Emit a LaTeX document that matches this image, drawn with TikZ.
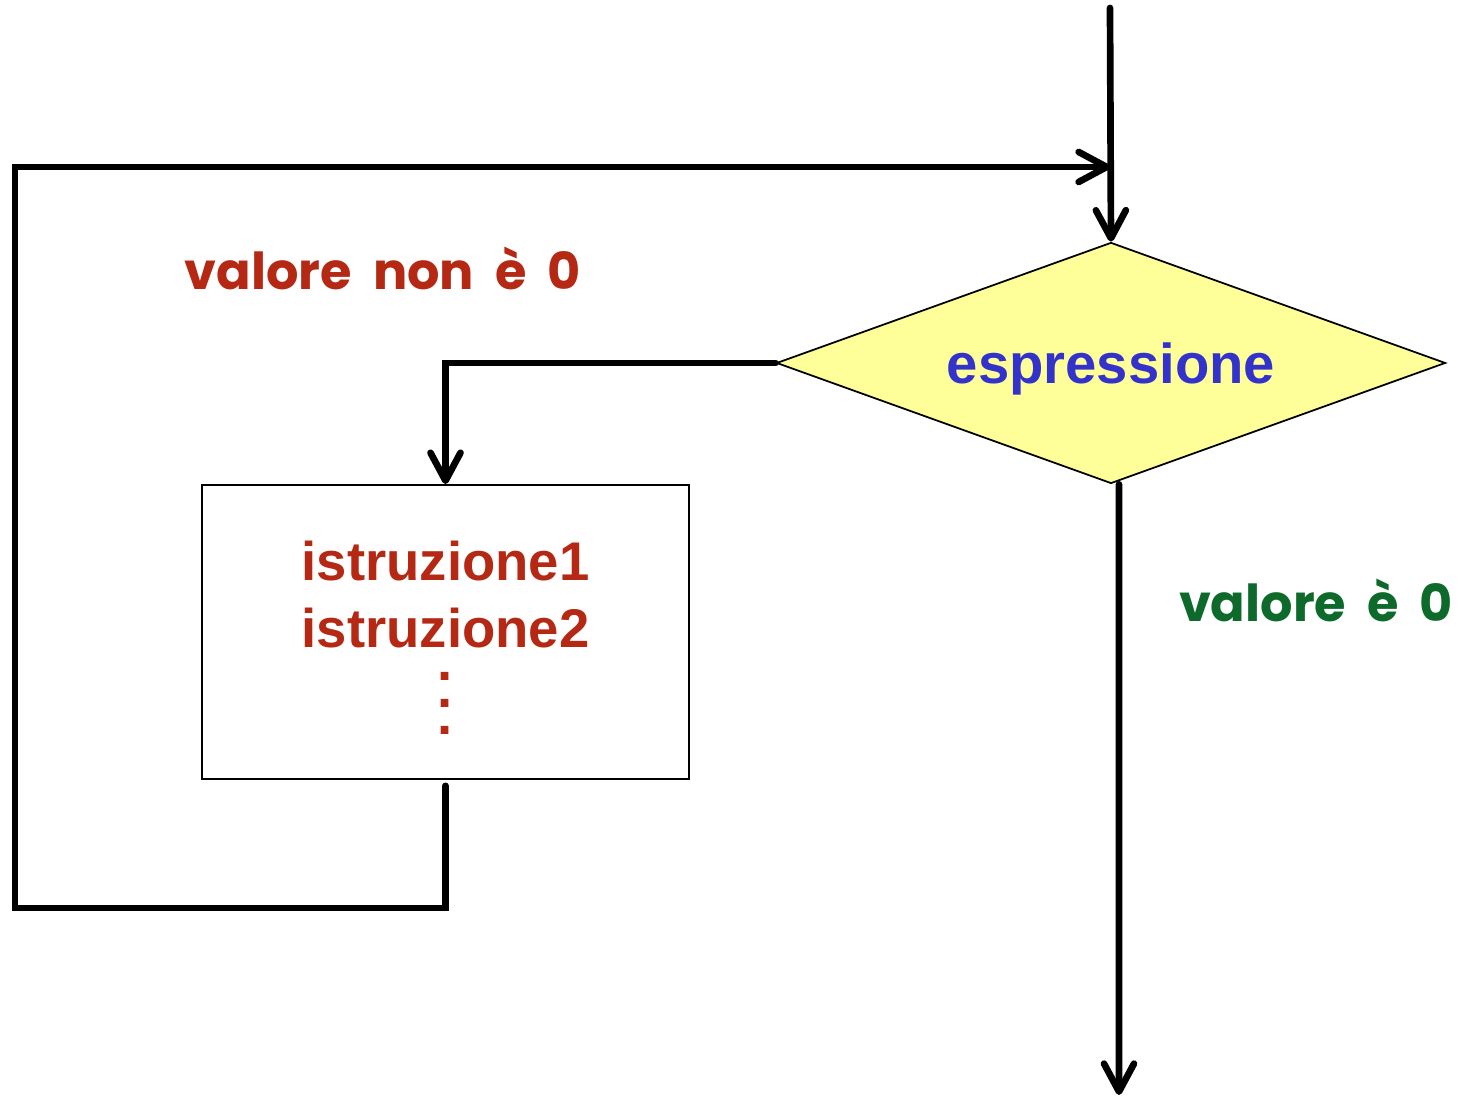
\documentclass[tikz,border=0pt]{standalone}
\usepackage{fontspec}
\setmainfont{Liberation Sans}
\newfontfamily\comicfont{Poppins}
\newcommand\lblfont{\comicfont\bfseries\fontsize{14.5}{18}\selectfont\spaceskip=6pt\relax}
\usetikzlibrary{shapes.geometric,arrows.meta}
\definecolor{istrred}{RGB}{180,40,20}
\definecolor{exprblue}{RGB}{51,51,204}
\definecolor{exitgreen}{RGB}{14,106,42}
\definecolor{condyellow}{RGB}{255,255,153}

\begin{document}
\begin{tikzpicture}[
    flow/.style={line width=1.9pt, line cap=round},
    arr/.style={flow, -{Straight Barb[length=2.8mm,width=3mm,round]}},
    lbl/.style={font=\lblfont}
  ]
    \useasboundingbox (0,0) rectangle (14.57,10.98);
    \node[diamond, draw=black, line width=0.5pt, fill=condyellow, aspect=2.78,
          minimum width=6.69cm, minimum height=2.41cm, inner sep=0pt, text depth=0pt,
          text=exprblue, font=\bfseries\fontsize{16}{19}\selectfont] (cond) at (11.11,7.35) {espressione};
    \node[draw=black, line width=0.5pt, minimum width=4.87cm, minimum height=2.94cm,
          align=center, text=istrred, font=\bfseries\fontsize{15.5}{19}\selectfont] (body) at (4.455,4.66)
          {\rule{0pt}{14.5pt}istruzione1\\istruzione2\\[-9.6pt].\\[-11.3pt].\\[-11.3pt].};
    \node[lbl, text=istrred] (nonzero) at (3.83,8.30) {valore non è 0};
    \node[lbl, text=exitgreen] (zero) at (13.16,4.98) {valore è 0};
    \coordinate (entry) at (11.10,10.90);
    \coordinate (joint) at (11.10,9.31);
    \coordinate (loopbl) at (0.15,1.90);
    \coordinate (exit) at (11.19,0.03);
    \draw[arr] (entry) -- (cond.north);
    \draw[arr] (cond.west) -| (body.north);
    \draw[arr] ([yshift=-0.06cm]body.south) |- (loopbl) |- (joint);
    \draw[arr] ([xshift=0.08cm]cond.south) -- (exit);
\end{tikzpicture}
\end{document}
